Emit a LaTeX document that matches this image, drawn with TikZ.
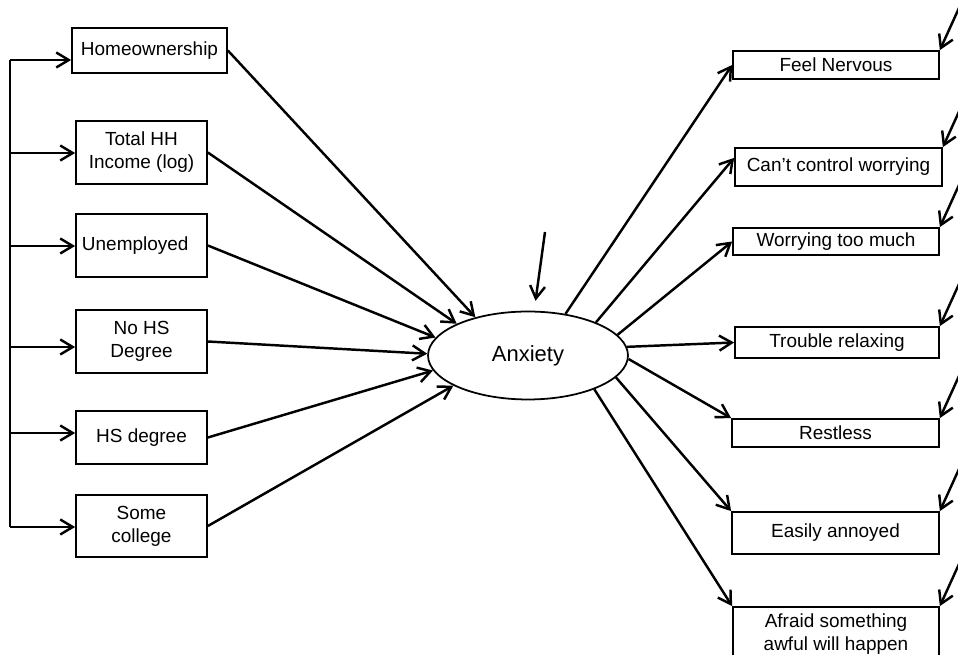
\documentclass[tikz,border=0pt]{standalone}
\usepackage{fontspec}
\setmainfont{Liberation Sans}
\usetikzlibrary{arrows.meta,positioning,shapes.geometric,calc}

\begin{document}
\begin{tikzpicture}[x=0.02cm, y=-0.02cm,
    every node/.style={font=\fontsize{10.8}{13}\selectfont},
    varbox/.style={draw, line width=1pt, inner sep=0pt, align=center,
      minimum width=2.62cm, minimum height=1.26cm},
    itembox/.style={draw, line width=1pt, inner sep=0pt, align=center,
      minimum width=4.12cm},
    link/.style={line width=1.4pt, -{Straight Barb[length=2.5mm,width=3mm]}}]

    \useasboundingbox (0,0) rectangle (958,655);
    \clip (0,0) rectangle (958,655);

    % predictors
    \node[varbox, minimum width=3.1cm, minimum height=0.9cm] (home) at (149.5,50.5) {Homeownership};
    \node[varbox] (inc) at (141.5,152.5) {Total HH\\Income (log)};
    \node[varbox] (unemp) at (141.5,245.5) {Unemployed\hspace{0.25cm}};
    \node[varbox] (nohs) at (141.5,341.5) {No HS\\Degree};
    \node[varbox, minimum height=1.06cm] (hs) at (141.5,437.5) {HS degree};
    \node[varbox, minimum height=1.24cm] (coll) at (141.5,526) {Some\\college};

    % latent factor
    \node[ellipse, draw, line width=1pt, inner sep=0pt, minimum width=4cm, minimum height=1.76cm,
      font=\fontsize{12.5}{14}\selectfont] (anx) at (528,355.5) {Anxiety};

    % indicators
    \node[itembox, minimum height=0.56cm] (nerv) at (836,65) {Feel Nervous};
    \node[itembox, minimum width=4.14cm, minimum height=0.76cm] (ctrl) at (838.5,167) {Can’t control worrying};
    \node[itembox, minimum height=0.54cm] (much) at (836,241.5) {Worrying too much};
    \node[itembox, minimum width=4.08cm, minimum height=0.62cm] (relax) at (837,342.5) {Trouble relaxing};
    \node[itembox, minimum width=4.14cm, minimum height=0.56cm] (rest) at (835.5,433) {Restless};
    \node[itembox, minimum width=4.14cm, minimum height=0.84cm] (annoy) at (835.5,533) {Easily annoyed};
    \node[itembox, minimum height=1.1cm] (afraid) at (836,634.5) {Afraid something\\awful will happen};

    % covariance bus on the left
    \foreach \b/\y in {home/60, inc/153, unemp/246, nohs/347, hs/433, coll/527}
      \coordinate (bus-\b) at (10,\y);
    \draw[line width=1.4pt] (bus-home) -- (bus-coll);
    \foreach \b in {home, inc, unemp, nohs, hs, coll}
      \draw[link] (bus-\b) -- (\b.west |- bus-\b);

    % predictors -> anxiety
    \foreach \b/\a in {home/144, inc/156, unemp/169, nohs/179, hs/189, coll/202}
      \draw[link] (\b.east) -- (anx.\a);

    % anxiety -> indicators
    \foreach \a/\t in {48/nerv.west, 26/ctrl.175, 13/much.west, 5/relax.west,
        358/rest.north west, 346/annoy.north west, 333/afraid.north west}
      \draw[link] (anx.\a) -- (\t);

    % disturbance and error terms
    \coordinate (e-anx) at (545,232);
    \draw[link, shorten >=0.2cm] (e-anx) -- (anx);
    \foreach \t in {nerv, ctrl, much, relax, rest, annoy, afraid} {
      \coordinate (e-\t) at ($(\t.north east)+(25,-55)$);
      \draw[link] (e-\t) -- (\t.north east);
    }
\end{tikzpicture}
\end{document}
